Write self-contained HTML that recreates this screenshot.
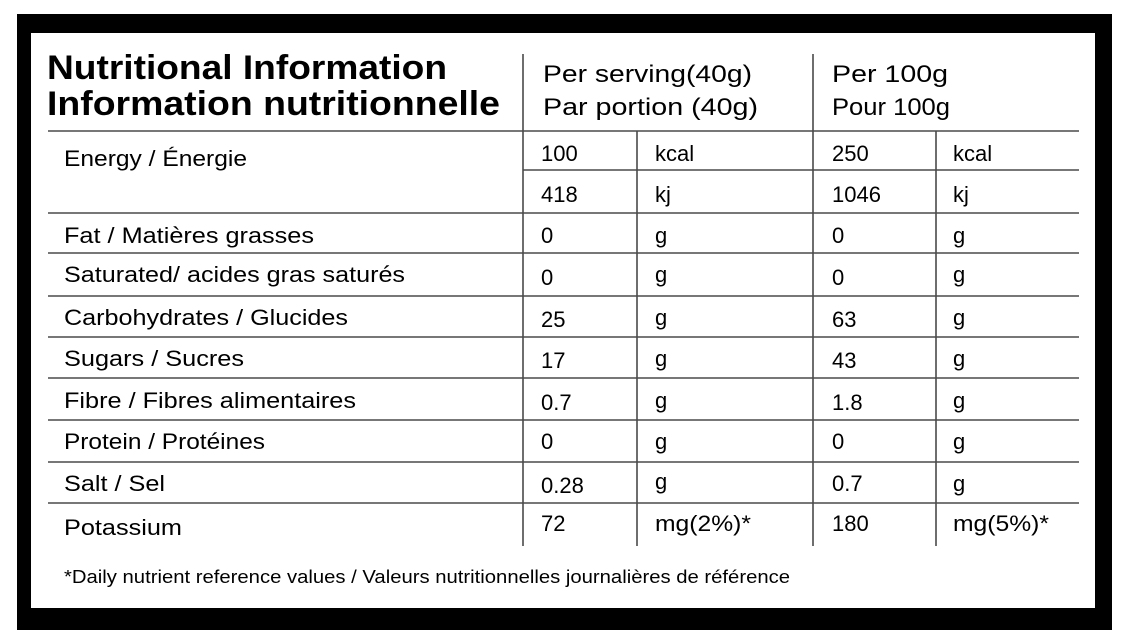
<!DOCTYPE html>
<html><head><style>
html,body{margin:0;padding:0;background:#fff;}
svg{display:block;font-family:"Liberation Sans",Arial,sans-serif;}
</style></head><body>
<svg width="1126" height="644" viewBox="0 0 1126 644" xmlns="http://www.w3.org/2000/svg">
<rect x="0" y="0" width="1126" height="644" fill="#fff"/>
<rect x="17" y="14" width="1095" height="616" fill="#000"/>
<rect x="31" y="33" width="1064" height="575" fill="#fff"/>
<g stroke="#4a4a4a" stroke-width="1.6" fill="none">
<line x1="48" y1="131" x2="1079" y2="131"/>
<line x1="523" y1="170" x2="1079" y2="170"/>
<line x1="48" y1="213" x2="1079" y2="213"/>
<line x1="48" y1="253" x2="1079" y2="253"/>
<line x1="48" y1="296" x2="1079" y2="296"/>
<line x1="48" y1="337" x2="1079" y2="337"/>
<line x1="48" y1="378" x2="1079" y2="378"/>
<line x1="48" y1="420" x2="1079" y2="420"/>
<line x1="48" y1="462" x2="1079" y2="462"/>
<line x1="48" y1="503" x2="1079" y2="503"/>
<line x1="523" y1="54" x2="523" y2="546"/>
<line x1="813" y1="54" x2="813" y2="546"/>
<line x1="637" y1="131" x2="637" y2="546"/>
<line x1="936" y1="131" x2="936" y2="546"/>
</g>
<g fill="#000">
<text x="47" y="79" font-size="34" font-weight="bold" textLength="400" lengthAdjust="spacingAndGlyphs">Nutritional Information</text>
<text x="47" y="115" font-size="34" font-weight="bold" textLength="453" lengthAdjust="spacingAndGlyphs">Information nutritionnelle</text>
<text x="543" y="82" font-size="24" textLength="209" lengthAdjust="spacingAndGlyphs">Per serving(40g)</text>
<text x="543" y="115" font-size="24" textLength="215" lengthAdjust="spacingAndGlyphs">Par portion (40g)</text>
<text x="832" y="82" font-size="24" textLength="116" lengthAdjust="spacingAndGlyphs">Per 100g</text>
<text x="832" y="115" font-size="24" textLength="118" lengthAdjust="spacingAndGlyphs">Pour 100g</text>
</g>
<g fill="#000" font-size="22">
<text x="64" y="166" textLength="183" lengthAdjust="spacingAndGlyphs">Energy / Énergie</text>
<text x="541" y="161">100</text><text x="655" y="161">kcal</text><text x="832" y="161">250</text><text x="953" y="161">kcal</text>
<text x="541" y="202">418</text><text x="655" y="202">kj</text><text x="832" y="202">1046</text><text x="953" y="202">kj</text>
<text x="64" y="243" textLength="250" lengthAdjust="spacingAndGlyphs">Fat / Matières grasses</text>
<text x="541" y="243">0</text><text x="655" y="243">g</text><text x="832" y="243">0</text><text x="953" y="243">g</text>
<text x="64" y="282" textLength="341" lengthAdjust="spacingAndGlyphs">Saturated/ acides gras saturés</text>
<text x="541" y="285">0</text><text x="655" y="282">g</text><text x="832" y="285">0</text><text x="953" y="282">g</text>
<text x="64" y="325" textLength="284" lengthAdjust="spacingAndGlyphs">Carbohydrates / Glucides</text>
<text x="541" y="327">25</text><text x="655" y="325">g</text><text x="832" y="327">63</text><text x="953" y="325">g</text>
<text x="64" y="366" textLength="180" lengthAdjust="spacingAndGlyphs">Sugars / Sucres</text>
<text x="541" y="368">17</text><text x="655" y="366">g</text><text x="832" y="368">43</text><text x="953" y="366">g</text>
<text x="64" y="408" textLength="292" lengthAdjust="spacingAndGlyphs">Fibre / Fibres alimentaires</text>
<text x="541" y="410">0.7</text><text x="655" y="408">g</text><text x="832" y="410">1.8</text><text x="953" y="408">g</text>
<text x="64" y="449" textLength="201" lengthAdjust="spacingAndGlyphs">Protein / Protéines</text>
<text x="541" y="449">0</text><text x="655" y="449">g</text><text x="832" y="449">0</text><text x="953" y="449">g</text>
<text x="64" y="491" textLength="101" lengthAdjust="spacingAndGlyphs">Salt / Sel</text>
<text x="541" y="493">0.28</text><text x="655" y="489">g</text><text x="832" y="491">0.7</text><text x="953" y="491">g</text>
<text x="64" y="535" textLength="118" lengthAdjust="spacingAndGlyphs">Potassium</text>
<text x="541" y="531">72</text><text x="655" y="531" textLength="96" lengthAdjust="spacingAndGlyphs">mg(2%)*</text><text x="832" y="531">180</text><text x="953" y="531" textLength="96" lengthAdjust="spacingAndGlyphs">mg(5%)*</text>
</g>
<text x="64" y="583" font-size="18" fill="#000" textLength="726" lengthAdjust="spacingAndGlyphs">*Daily nutrient reference values / Valeurs nutritionnelles journalières de référence</text>
</svg>
</body></html>
